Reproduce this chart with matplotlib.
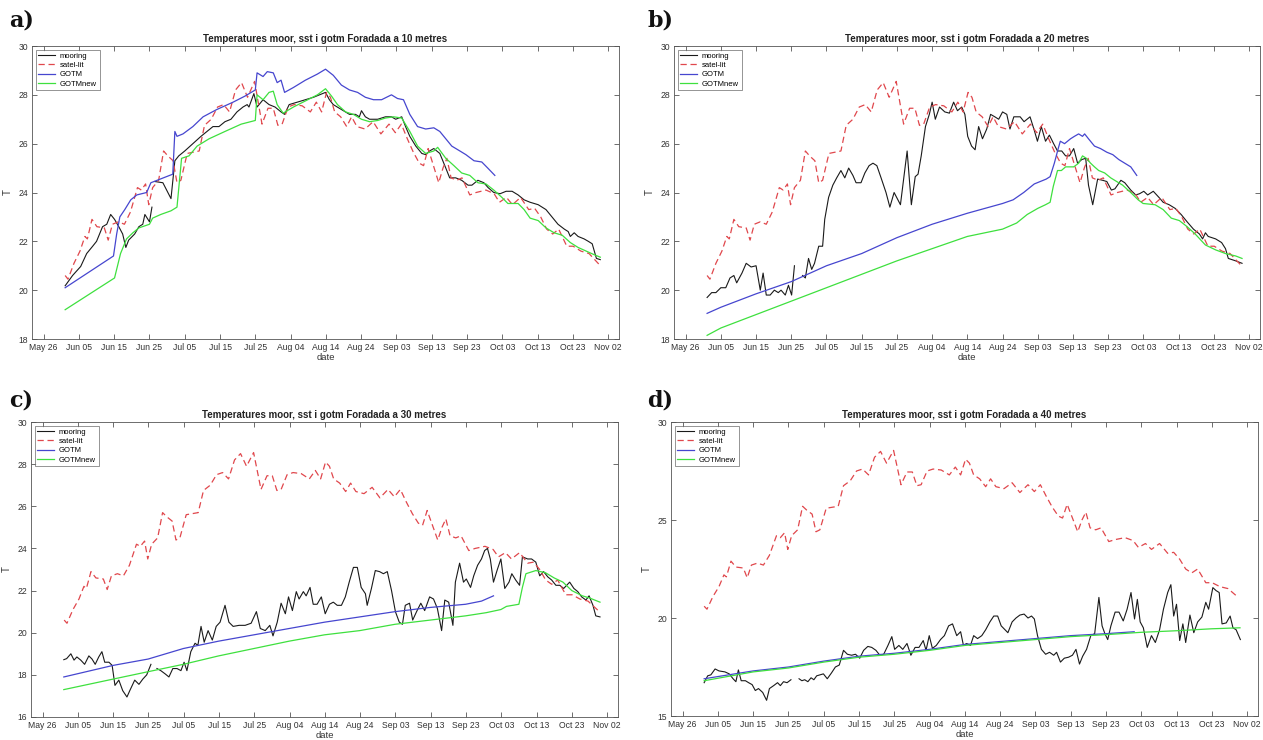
import numpy as np
import matplotlib
matplotlib.use("Agg")
import matplotlib.pyplot as plt
import matplotlib.dates as mdates

plt.rcParams['font.family'] = ['Liberation Sans', 'DejaVu Sans']

# ---------------- data (days after 2018-05-26, temperature) ----------------
BASE = "2018-05-26"
xtick_dates = ["2018-05-26", "2018-06-05", "2018-06-15", "2018-06-25", "2018-07-05",
               "2018-07-15", "2018-07-25", "2018-08-04", "2018-08-14", "2018-08-24",
               "2018-09-03", "2018-09-13", "2018-09-23", "2018-10-03", "2018-10-13",
               "2018-10-23", "2018-11-02"]

sat_day = [6.1, 6.9, 8.6, 10.3, 11.7, 12.4, 13.7, 15.1, 17.2, 18.3, 19.5, 21.2, 22.9, 24.6,
           26.6, 27.7, 28.9, 29.8, 30.9, 32.6, 34.0, 35.2, 36.7, 37.8, 38.9, 40.7, 42.4, 44.1,
           45.6, 47.5, 49.3, 51.0, 52.7, 54.4, 56.1, 57.8, 59.8, 60.7, 61.9, 63.6, 65.1, 66.4,
           67.6, 69.3, 71.0, 73.3, 75.6, 77.3, 78.8, 80.2, 81.3, 82.5, 84.2, 85.9, 87.3, 88.8,
           91.1, 93.4, 95.6, 97.9, 99.7, 101.4, 103.1, 104.8, 106.5, 107.7, 109.0, 110.5, 112.0,
           113.2, 114.3, 115.5, 117.1, 118.6, 120.8, 122.6, 125.4, 127.7, 129.2, 131.2, 132.9,
           135.2, 137.5, 139.2, 140.9, 142.6, 144.3, 146.0, 148.3, 150.1, 152.3, 154.6, 157.5]
sat_T = [20.6, 20.45, 21.1, 21.6, 22.2, 22.1, 22.9, 22.6, 22.55, 22.05, 22.7, 22.8, 22.7, 23.2,
         24.2, 24.1, 24.35, 23.5, 24.2, 24.5, 25.7, 25.5, 25.3, 24.4, 24.5, 25.6, 25.65, 25.7,
         26.75, 27.0, 27.5, 27.6, 27.3, 28.2, 28.5, 27.9, 28.55, 27.8, 26.8, 27.45, 27.45, 26.75,
         26.8, 27.5, 27.6, 27.55, 27.3, 27.7, 27.3, 28.1, 27.9, 27.3, 27.1, 26.7, 27.1, 26.7,
         26.6, 26.9, 26.4, 26.8, 26.45, 26.8, 26.2, 25.65, 25.2, 25.1, 25.8, 25.1, 24.4,
         25.0, 25.4, 24.6, 24.5, 24.6, 23.9, 24.0, 24.1, 23.95, 23.6, 23.8, 23.5,
         23.8, 23.3, 23.35, 23.0, 22.5, 22.3, 22.5, 21.8, 21.8, 21.6, 21.5, 21.05]

# ---- panel a: 10 m ----
moor10_day = [6.1, 8.2, 10.5, 12.2, 13.9, 15.0, 16.7, 17.9, 19.0, 20.1, 21.3, 22.4, 23.3, 24.1,
              25.8, 27.0, 28.1, 28.7, 30.0, 30.7, 31.0, 31.5, 33.8, 36.1, 37.2, 38.3, 40.0, 42.3,
              44.6, 46.3, 48.0, 49.7, 51.4, 53.1, 54.8, 56.5, 57.7, 58.2, 59.6, 60.5, 62.2, 63.9,
              65.6, 67.3, 68.3, 69.6, 71.9, 74.2, 76.5, 78.2, 79.9, 81.0, 82.1, 84.4, 86.7, 88.4,
              89.5, 90.1, 91.2, 92.4, 94.7, 96.9, 98.6, 99.8, 101.5, 102.6, 103.8, 105.5, 107.2,
              108.3, 109.4, 110.6, 112.3, 114.0, 115.1, 116.8, 118.5, 120.3, 121.4, 123.1, 124.8,
              126.0, 127.6, 129.4, 131.1, 132.8, 134.5, 136.2, 137.9, 140.2, 142.4, 144.1, 145.8,
              147.6, 148.7, 149.3, 150.4, 151.5, 153.2, 154.4, 155.5, 156.7, 157.8]
moor10_T = [20.18, 20.6, 20.97, 21.5, 21.8, 22.0, 22.6, 22.7, 23.1, 22.9, 22.6, 22.3, 21.75, 22.05,
            22.3, 22.6, 22.7, 23.1, 22.8, 23.4, np.nan, 24.45, 24.4, 23.75, 25.3, 25.5, 25.7, 26.0,
            26.3, 26.5, 26.7, 26.7, 26.9, 27.0, 27.3, 27.5, 27.6, 27.5, 28.05, 27.5, 27.8, 27.6,
            27.5, 27.3, 27.2, 27.6, 27.7, 27.8, 27.9, 28.0, 28.1, 27.8, 27.6, 27.4, 27.2, 27.2,
            27.1, 27.35, 27.1, 27.0, 27.0, 27.1, 27.1, 27.0, 27.1, 26.7, 26.3, 25.9, 25.6,
            25.55, 25.7, 25.8, 25.6, 25.0, 24.6, 24.6, 24.5, 24.3, 24.3, 24.5, 24.4,
            24.2, 24.0, 23.95, 24.05, 24.05, 23.9, 23.7, 23.6, 23.5, 23.3, 23.0, 22.7,
            22.5, 22.4, 22.2, 22.35, 22.2, 22.1, 22.0, 21.9, 21.3, 21.25]
gotm10_day = [6.1, 19.8, 20.7, 21.6, 23.0, 24.7, 26.4, 29.2, 30.4, 36.6, 37.2, 37.8, 39.5, 42.3,
              45.2, 49.1, 53.7, 57.1, 60.0, 60.5, 62.2, 63.4, 65.1, 66.2, 67.3, 68.3, 70.8, 74.2,
              77.6, 79.9, 82.1, 84.4, 86.7, 89.0, 91.2, 93.5, 95.8, 98.6, 100.3, 102.0, 103.8,
              106.0, 108.3, 110.6, 112.3, 114.0, 115.7, 118.0, 119.7, 122.0, 124.2, 125.9, 127.9]
gotm10_T = [20.1, 21.4, 22.3, 23.0, 23.3, 23.7, 23.9, 24.0, 24.4, 24.75, 26.5, 26.3, 26.4, 26.7,
            27.1, 27.4, 27.7, 27.95, 28.2, 28.9, 28.75, 28.95, 28.9, 28.5, 28.6, 28.1, 28.3, 28.6,
            28.85, 29.05, 28.8, 28.4, 28.2, 28.1, 27.9, 27.8, 27.8, 28.0, 27.85, 27.8, 27.2,
            26.7, 26.6, 26.65, 26.5, 26.2, 25.9, 25.7, 25.55, 25.3, 25.25, 25.0, 24.7]
new10_day = [6.1, 20.1, 21.8, 23.5, 25.3, 27.0, 30.0, 30.9, 33.2, 36.1, 37.8, 39.1, 41.2, 43.5,
             46.9, 51.4, 56.0, 60.0, 60.5, 62.2, 63.9, 65.1, 66.2, 67.9, 70.8, 74.2, 77.6, 79.9,
             81.6, 83.3, 85.6, 87.8, 90.1, 92.4, 94.7, 96.9, 99.2, 101.5, 103.8, 106.0, 108.3,
             110.6, 111.7, 114.0, 116.3, 118.5, 120.8, 123.1, 125.4, 127.6, 129.9, 131.6, 134.5,
             136.2, 137.9, 140.2, 142.4, 144.7, 147.0, 149.3, 151.5, 153.8, 156.1, 157.8]
new10_T = [19.2, 20.5, 21.5, 22.1, 22.35, 22.55, 22.7, 22.95, 23.1, 23.25, 23.4, 25.4, 25.5, 25.9,
           26.2, 26.5, 26.8, 26.95, 28.0, 27.8, 28.1, 28.15, 27.6, 27.25, 27.5, 27.75, 28.0, 28.25,
           27.95, 27.6, 27.3, 27.2, 27.0, 26.9, 26.95, 27.05, 27.1, 27.05, 26.5, 25.9, 25.6,
           25.7, 25.85, 25.4, 25.1, 24.8, 24.7, 24.4, 24.35, 24.1, 23.8, 23.55, 23.55,
           23.3, 22.95, 22.85, 22.55, 22.35, 22.25, 21.95, 21.75, 21.6, 21.45, 21.35]

# ---- panel b: 20 m ----
moor20_day = [6.1, 7.4, 8.6, 10.0, 11.4, 12.6, 13.7, 14.5, 16.0, 17.2, 18.6, 20.0, 21.2, 22.0,
              22.9, 24.0, 25.2, 26.3, 27.1, 28.3, 29.2, 30.1, 30.9, 32.0, 33.2, 34.0, 34.9, 35.8,
              36.6, 37.8, 38.9, 39.5, 40.6, 41.8, 42.9, 44.1, 45.2, 46.3, 47.5, 48.4, 49.8, 50.9,
              52.1, 53.2, 54.3, 55.5, 56.9, 58.0, 59.2, 61.0, 62.9, 64.1, 65.2, 66.0, 66.9, 68.1,
              69.2, 70.0, 70.9, 72.1, 73.6, 74.9, 76.1, 77.2, 78.4, 79.3, 80.1, 81.2, 82.2, 83.2,
              84.3, 85.5, 86.6, 87.8, 88.9, 90.0, 91.2, 92.1, 93.2, 95.0, 96.1, 97.8, 99.0, 99.9,
              101.0, 102.2, 103.3, 104.5, 105.6, 106.8, 107.9, 109.0, 110.2, 111.3, 112.5, 113.6,
              114.4, 115.6, 117.0, 118.4, 119.6, 120.9, 121.9, 123.6, 124.7, 126.4, 127.8, 128.9,
              130.1, 131.2, 132.8, 134.4, 135.6, 137.3, 139.0, 140.7, 142.4, 144.2, 145.9, 146.8,
              147.6, 148.4, 150.5, 152.2, 153.3, 154.1, 156.2, 158.0]
moor20_T = [19.7, 19.9, 19.9, 20.1, 20.1, 20.5, 20.6, 20.3, 20.7, 21.1, 20.95, 21.0, 20.0, 20.7,
            19.8, 19.8, 20.0, 19.9, 20.0, 19.8, 20.2, 19.8, 21.0, np.nan, 20.6, 20.5, 21.3, 20.85,
            21.1, 21.8, 21.8, 22.9, 23.8, 24.3, 24.6, 24.9, 24.6, 25.0, 24.7, 24.4, 24.4, 24.8,
            25.1, 25.2, 25.1, 24.6, 24.0, 23.4, 24.0, 23.5, 25.7, 23.5, 24.65, 24.75, 25.5, 26.7,
            27.2, 27.7, 27.0, 27.5, 27.3, 27.25, 27.7, 27.35, 27.5, 27.2, 26.3, 25.9, 25.75, 26.7,
            26.2, 26.6, 27.2, 27.1, 27.0, 27.3, 27.2, 26.6, 27.1, 27.1, 26.9, 27.1, 26.55, 26.1,
            26.7, 26.1, 26.35, 26.0, 25.7, 25.7, 25.5, 25.5, 25.8, 25.2, 25.35, 25.4,
            24.3, 23.5, 24.55, 24.5, 24.45, 24.1, 24.15, 24.5, 24.4, 24.1, 23.9, 23.95,
            24.05, 23.9, 24.05, 23.8, 23.6, 23.5, 23.35, 23.1, 22.8, 22.5, 22.3, 22.1,
            22.35, 22.2, 22.1, 21.95, 21.7, 21.3, 21.2, 21.1]
gotm20_day = [6.1, 10.0, 20.0, 30.0, 40.0, 50.0, 60.0, 70.0, 80.0, 90.0, 93.0, 96.0, 99.0, 102.4,
              103.5, 104.7, 105.8, 106.4, 107.6, 109.3, 110.4, 111.6, 112.7, 113.3, 114.4, 116.1,
              117.8, 119.6, 121.3, 123.0, 124.7, 126.4, 128.1]
gotm20_T = [19.05, 19.3, 19.85, 20.35, 21.0, 21.5, 22.15, 22.7, 23.15, 23.55, 23.7, 24.0, 24.35, 24.55,
            24.65, 25.2, 25.8, 26.1, 26.0, 26.2, 26.3, 26.4, 26.3, 26.4, 26.2, 25.9,
            25.8, 25.65, 25.55, 25.35, 25.2, 25.05, 24.7]
new20_day = [6.1, 10.0, 20.0, 30.0, 40.0, 50.0, 60.0, 70.0, 80.0, 90.0, 94.0, 97.0, 100.0, 102.2,
             103.5, 104.4, 105.6, 106.7, 107.9, 110.2, 111.6, 112.7, 113.8, 115.0, 116.1, 117.3,
             119.0, 120.7, 122.4, 124.1, 126.4, 128.5, 129.9, 133.3, 135.6, 137.9, 140.2, 142.4,
             144.7, 147.6, 150.5, 153.3, 156.2, 158.0]
new20_T = [18.15, 18.45, 19.0, 19.55, 20.1, 20.65, 21.2, 21.7, 22.2, 22.5, 22.75, 23.1, 23.35, 23.5,
           23.6, 24.25, 24.9, 24.9, 25.05, 25.05, 25.2, 25.5, 25.4, 25.2, 25.05, 24.9,
           24.8, 24.6, 24.45, 24.3, 24.0, 23.7, 23.55, 23.5, 23.3, 22.95, 22.85, 22.6,
           22.3, 21.85, 21.65, 21.5, 21.4, 21.3]

# ---- panel c: 30 m ----
moor30_day = [6.0, 6.8, 8.0, 8.9, 9.7, 10.8, 11.9, 13.1, 14.0, 14.9, 15.9, 16.8, 17.6, 18.8, 19.7,
              20.5, 21.6, 22.7, 23.9, 24.7, 26.1, 27.3, 28.4, 29.5, 30.7, 31.6, 32.4, 33.5, 34.7,
              35.8, 36.9, 38.1, 39.2, 40.1, 40.9, 42.0, 43.2, 44.0, 44.9, 45.8, 46.9, 48.1, 49.2,
              50.3, 51.7, 52.8, 54.0, 55.7, 57.4, 59.1, 60.6, 61.7, 63.1, 64.4, 65.3, 66.5, 67.6,
              68.8, 69.7, 70.8, 71.9, 72.7, 73.9, 74.7, 75.8, 76.7, 77.8, 79.0, 80.1, 81.3, 82.4,
              83.5, 84.7, 85.8, 86.9, 88.1, 89.2, 90.3, 91.5, 92.0, 93.2, 94.3, 95.5, 96.6, 97.7,
              98.9, 100.0, 101.1, 102.0, 102.8, 104.0, 104.9, 106.0, 107.2, 108.3, 109.7, 110.8,
              111.9, 113.1, 114.0, 115.1, 116.3, 117.0, 118.2, 119.3, 120.1, 121.3, 122.2, 123.3,
              124.4, 125.3, 126.1, 126.9, 127.8, 128.9, 129.9, 131.0, 132.2, 133.0, 134.1, 135.2,
              136.0, 137.5, 138.6, 139.8, 140.9, 142.0, 143.2, 144.3, 145.5, 146.6, 147.7, 149.4,
              150.6, 151.7, 152.8, 154.0, 154.9, 156.0, 156.8, 158.0]
moor30_T = [18.72, 18.77, 19.0, 18.7, 18.85, 18.7, 18.5, 18.9, 18.75, 18.5, 18.85, 19.1, 18.6, 18.6, 18.45,
            17.5, 17.75, 17.25, 16.95, 17.25, 17.75, 17.55, 17.8, 18.0, 18.5, np.nan, 18.3, 18.2, 18.05,
            17.9, 18.3, 18.3, 18.2, 18.6, 18.2, 19.1, 19.5, 19.4, 20.3, 19.55, 20.1, 19.65, 20.3,
            20.5, 21.3, 20.5, 20.3, 20.35, 20.35, 20.45, 21.0, 20.2, 20.1, 20.35, 19.85, 20.5, 21.4,
            20.9, 21.7, 21.05, 21.95, 21.6, 21.95, 21.75, 22.15, 21.35, 21.35, 21.7, 20.9, 21.35, 21.45,
            21.3, 21.3, 21.7, 22.4, 23.1, 23.1, 22.15, 21.85, 21.3, 22.1, 22.95, 22.9, 22.8, 22.9,
            22.0, 21.0, 20.5, 20.4, 21.3, 21.4, 20.6, 21.0, 21.4, 21.05, 21.7, 21.6,
            21.15, 20.1, 21.55, 21.45, 20.35, 22.4, 23.3, 22.4, 22.55, 22.15, 22.7, 23.2,
            23.5, 23.9, 24.0, 23.5, 22.4, 23.0, 23.5, 22.1, 22.4, 22.8, 22.5, 22.25,
            23.6, 23.5, 23.5, 23.35, 22.7, 22.9, 22.65, 22.5, 22.25, 22.25, 22.1, 22.4,
            22.1, 21.95, 21.7, 21.55, 21.75, 21.3, 20.8, 20.75]
gotm30_day = [6.0, 20.0, 29.9, 39.9, 49.9, 59.9, 69.9, 79.9, 89.9, 99.9, 109.9, 119.9, 124.4, 127.8]
gotm30_T = [17.9, 18.45, 18.75, 19.25, 19.6, 19.9, 20.2, 20.5, 20.75, 21.0, 21.2, 21.35, 21.5, 21.75]
new30_day = [6.0, 20.0, 29.9, 39.9, 49.9, 59.9, 69.9, 79.9, 89.9, 99.9, 109.9, 119.9, 125.7, 129.9,
             131.5, 135.0, 136.0, 137.0, 139.8, 142.5, 145.0, 147.5, 150.0, 153.0, 155.0, 158.0]
new30_T = [17.3, 17.8, 18.15, 18.5, 18.9, 19.25, 19.6, 19.9, 20.1, 20.4, 20.6, 20.8, 20.95, 21.1,
           21.25, 21.35, 22.15, 22.8, 22.95, 22.85, 22.6, 22.4, 22.0, 21.75, 21.65, 21.45]

# ---- panel d: 40 m ----
moor40_day = [6.1, 7.1, 8.0, 9.2, 10.3, 12.0, 13.2, 14.3, 15.1, 15.8, 16.6, 17.8, 18.7, 19.7, 20.6,
              21.5, 22.7, 23.8, 24.6, 25.8, 26.9, 27.7, 28.6, 29.6, 30.7, 32.0, 33.0, 33.8, 34.6,
              35.5, 36.4, 37.2, 38.0, 38.9, 39.9, 41.0, 42.2, 43.3, 44.4, 45.6, 46.7, 47.9, 49.0,
              50.2, 51.3, 52.5, 53.6, 54.8, 55.9, 57.0, 58.2, 59.3, 60.1, 61.3, 62.4, 63.6, 64.7,
              65.9, 67.0, 68.2, 69.0, 69.9, 70.8, 71.9, 73.1, 74.2, 75.4, 76.5, 77.7, 78.8, 79.6,
              80.5, 81.6, 82.5, 83.6, 84.8, 85.9, 87.1, 88.2, 89.3, 90.3, 91.4, 92.2, 93.4, 94.5,
              95.6, 96.8, 97.9, 98.9, 99.7, 100.6, 101.7, 102.9, 104.0, 105.2, 106.0, 107.1, 108.2,
              109.4, 110.5, 111.5, 112.5, 113.4, 114.5, 115.7, 116.8, 118.0, 118.9, 119.7, 120.5,
              121.4, 122.6, 123.7, 124.9, 126.0, 127.1, 128.1, 128.9, 129.7, 130.6, 131.7, 132.9,
              134.0, 135.2, 136.3, 137.5, 138.4, 139.2, 140.0, 140.9, 141.8, 142.6, 143.8, 144.9,
              146.0, 147.2, 148.3, 149.1, 150.3, 151.2, 152.1, 152.9, 154.1, 155.2, 156.0, 156.9, 158.1]
moor40_T = [16.7, 17.05, 17.1, 17.4, 17.3, 17.25, 17.15, 16.9, 16.75, 17.35, 16.8, 16.8, 16.7, 16.6, 16.3,
            16.4, 16.2, 15.8, 16.4, 16.55, 16.7, 16.55, 16.75, 16.7, 16.85, np.nan, 16.9, 16.8, 16.85,
            16.75, 16.95, 16.85, 17.05, 17.1, 17.15, 16.9, 17.2, 17.5, 17.6, 18.35, 18.15, 18.1, 18.15,
            17.95, 18.35, 18.55, 18.5, 18.35, 18.1, 18.15, 18.6, 19.05, 18.4, 18.6, 18.4, 18.7, 18.1,
            18.5, 18.5, 18.85, 18.35, 19.1, 18.45, 18.6, 18.9, 19.1, 19.6, 19.7, 19.1, 19.3, 18.6,
            18.7, 18.6, 19.1, 18.95, 19.1, 19.4, 19.8, 20.1, 20.1, 19.6, 19.4, 19.25, 19.8, 20.0,
            20.15, 20.2, 20.0, 20.1, 19.95, 19.1, 18.4, 18.15, 18.25, 18.1, 18.25, 17.75, 17.95,
            18.0, 18.1, 18.4, 17.65, 18.05, 18.4, 19.1, 19.2, 21.05, 19.6, 19.2, 18.9,
            19.6, 20.3, 20.3, 19.85, 20.45, 21.3, 19.95, 20.95, 19.8, 19.5, 18.5, 19.1,
            18.75, 19.4, 20.45, 21.3, 21.7, 20.1, 20.7, 18.85, 19.7, 18.75, 20.15, 19.25,
            19.8, 20.05, 20.8, 20.45, 21.55, 21.4, 21.3, 19.7, 19.75, 20.1, 19.5, 19.4, 18.9]
gotm40_day = [6.1, 20.0, 30.0, 40.0, 50.0, 60.0, 70.0, 80.0, 90.0, 100.0, 110.0, 120.0, 128.0]
gotm40_T = [16.9, 17.3, 17.5, 17.8, 18.05, 18.2, 18.4, 18.65, 18.8, 18.95, 19.1, 19.2, 19.3]
new40_day = [6.1, 20.0, 30.0, 40.0, 50.0, 60.0, 70.0, 80.0, 90.0, 100.0, 110.0, 120.0, 130.0,
             140.0, 150.0, 158.0]
new40_T = [16.8, 17.25, 17.45, 17.75, 18.0, 18.15, 18.35, 18.6, 18.75, 18.9, 19.05, 19.15, 19.27,
           19.35, 19.45, 19.5]

panel_letters = ["a)", "b)", "c)", "d)"]
depths = [10, 20, 30, 40]
legend_labels = ["mooring", "satel-lit", "GOTM", "GOTMnew"]
ylims = [(18, 30), (18, 30), (16, 30), (15, 30)]
yticks = [[18, 20, 22, 24, 26, 28, 30], [18, 20, 22, 24, 26, 28, 30],
          [16, 18, 20, 22, 24, 26, 28, 30], [15, 20, 25, 30]]

panels = [
    (moor10_day, moor10_T, gotm10_day, gotm10_T, new10_day, new10_T),
    (moor20_day, moor20_T, gotm20_day, gotm20_T, new20_day, new20_T),
    (moor30_day, moor30_T, gotm30_day, gotm30_T, new30_day, new30_T),
    (moor40_day, moor40_T, gotm40_day, gotm40_T, new40_day, new40_T),
]

# ---------------- figure ----------------
W, H = 1263, 740
fig = plt.figure(figsize=(W / 100, H / 100), dpi=100)

# axes boxes in pixels: left, top, right, bottom
boxes = [(32, 46, 619, 339), (674, 46, 1260, 339), (31, 422, 618, 717), (671, 422, 1258, 716)]
letter_pos = [(9, 20), (647, 20), (9, 400), (647, 400)]

base_num = mdates.date2num(np.datetime64(BASE))
tick_nums = mdates.date2num(np.array(xtick_dates, dtype="datetime64[D]"))

C_MOOR = "#1a1a1a"
C_SAT = "#e0474c"
C_GOTM = "#4646cf"
C_NEW = "#3ee03e"

for i, (l, t, r, b) in enumerate(boxes):
    ax = fig.add_axes([l / W, (H - b) / H, (r - l) / W, (b - t) / H])
    md, mT, gd, gT, nd, nT = panels[i]
    ax.plot(base_num + np.array(md), mT, color=C_MOOR, lw=0.8, label=legend_labels[0])
    ax.plot(base_num + np.array(sat_day), sat_T, color=C_SAT, lw=0.9, ls=(0, (5, 3)),
            label=legend_labels[1])
    ax.plot(base_num + np.array(gd), gT, color=C_GOTM, lw=0.9, label=legend_labels[2])
    ax.plot(base_num + np.array(nd), nT, color=C_NEW, lw=0.9, label=legend_labels[3])

    ax.set_xlim(base_num - 3.3, base_num + 163.1)
    ax.set_ylim(*ylims[i])
    ax.set_yticks(yticks[i])
    ax.set_xticks(tick_nums)
    ax.xaxis.set_major_formatter(mdates.DateFormatter("%b %d"))
    ax.tick_params(direction="in", length=3.5, width=0.5, top=True, right=True,
                   labelsize=6.2, colors="#333333", pad=3)
    for s in ax.spines.values():
        s.set_linewidth(0.6)
        s.set_color("#555555")
    ax.set_title(f"Temperatures moor, sst i gotm Foradada a {depths[i]} metres",
                 fontsize=7, fontweight="bold", pad=3, color="#222222")
    ax.set_xlabel("date", fontsize=6.8, color="#333333", labelpad=0.5)
    ax.set_ylabel("T", fontsize=7, color="#333333", labelpad=4)
    leg = ax.legend(loc="upper left", fontsize=5.5, frameon=True, fancybox=False,
                    edgecolor="#444444", handlelength=2.2, handletextpad=0.6,
                    borderpad=0.35, labelspacing=0.25, borderaxespad=0.5)
    leg.get_frame().set_linewidth(0.5)

    fig.text(letter_pos[i][0] / W, 1 - letter_pos[i][1] / H, panel_letters[i],
             fontsize=16, fontweight="bold", family="DejaVu Serif",
             ha="left", va="center", color="#111111")

fig.savefig("out.png", dpi=100)
